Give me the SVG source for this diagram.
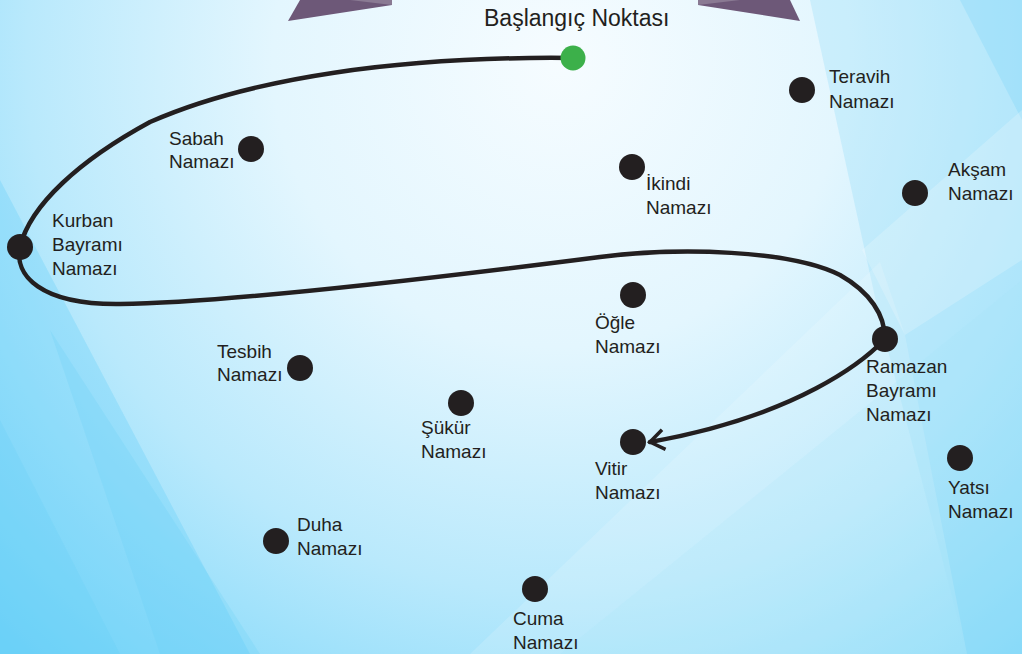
<svg xmlns="http://www.w3.org/2000/svg" width="1022" height="654" viewBox="0 0 1022 654">
  <defs>
    <radialGradient id="bg" cx="560" cy="60" r="820" gradientUnits="userSpaceOnUse">
      <stop offset="0" stop-color="#f6fcff"/>
      <stop offset="0.35" stop-color="#e3f6fe"/>
      <stop offset="0.65" stop-color="#b9e9fc"/>
      <stop offset="1" stop-color="#72d4f9"/>
    </radialGradient>
    <marker id="arr" viewBox="-16 -12 20 24" refX="0" refY="0" markerWidth="20" markerHeight="24" markerUnits="userSpaceOnUse" orient="auto">
      <path d="M-14,-10 L0,0 L-14,10" fill="none" stroke="#231f20" stroke-width="3.5" stroke-linejoin="miter"/>
    </marker>
    <style>
      .lbl { font-family: "Liberation Sans", Arial, sans-serif; font-size: 19px; fill: #231f20; }
      .title { font-family: "Liberation Sans", Arial, sans-serif; font-size: 23px; fill: #231f20; }
      .dot { fill: #231f20; }
      .conn { fill: none; stroke: #231f20; stroke-width: 4.5; stroke-linecap: round; }
    </style>
  </defs>

  <!-- background -->
  <rect x="0" y="0" width="1022" height="654" fill="url(#bg)"/>
  <g id="facets" stroke="none">
    <polygon points="810,0 1022,0 1022,654 967,654 880,320" fill="#8fdcfa" opacity="0.3"/>
    <polygon points="960,0 1022,0 1022,120" fill="#7ad5f8" opacity="0.3"/>
    <polygon points="862,250 1022,110 1022,260 905,335" fill="#ffffff" opacity="0.2"/>
    <polygon points="470,654 880,262 905,335 967,654" fill="#ffffff" opacity="0.15"/>
    <polygon points="0,180 0,654 250,654" fill="#5fcdf7" opacity="0.3"/>
    <polygon points="0,420 0,654 120,654" fill="#5fcdf7" opacity="0.2"/>
    <polygon points="50,330 160,654 260,654" fill="#5fcdf7" opacity="0.2"/>
    <polygon points="560,654 1022,280 1022,654" fill="#9fe2fb" opacity="0.15"/>
  </g>

  <!-- top decorative shapes -->
  <g id="header">
    <polygon points="300,0 392,0 392,5 288,21" fill="#6d5878"/>
    <polygon points="350,0 392,0 392,5" fill="#8a7a93"/>
    <polygon points="698,0 790,0 800,21 698,5" fill="#6d5878"/>
    <polygon points="698,0 740,0 698,5" fill="#8a7a93"/>
    <text class="title" x="484" y="26">Başlangıç Noktası</text>
  </g>

  <!-- connectors -->
  <g id="connectors">
    <path class="conn" d="M573,58 C400,56 250,78 150,122 C80,160 30,205 20,247 C14,275 40,305 120,304 C220,303 420,280 600,257 C680,247 790,250 840,275 C870,292 885,315 885,339"/>
    <path class="conn" d="M885,339 C865,360 800,415 650,442" marker-end="url(#arr)"/>
  </g>

  <!-- nodes -->
  <g id="start"><circle cx="573" cy="58" r="12.5" fill="#3cb04a"/></g>
  <g id="teravih"><circle class="dot" cx="802" cy="90" r="13"/><text class="lbl" x="829" y="83">Teravih</text><text class="lbl" x="829" y="108">Namazı</text></g>
  <g id="sabah"><circle class="dot" cx="251" cy="149" r="13"/><text class="lbl" x="169" y="145">Sabah</text><text class="lbl" x="169" y="168">Namazı</text></g>
  <g id="ikindi"><circle class="dot" cx="632" cy="167" r="13"/><text class="lbl" x="646" y="190">İkindi</text><text class="lbl" x="646" y="214">Namazı</text></g>
  <g id="aksam"><circle class="dot" cx="915" cy="193" r="13"/><text class="lbl" x="948" y="176">Akşam</text><text class="lbl" x="948" y="200">Namazı</text></g>
  <g id="kurban"><circle class="dot" cx="20" cy="247" r="13"/><text class="lbl" x="52" y="227">Kurban</text><text class="lbl" x="52" y="251">Bayramı</text><text class="lbl" x="52" y="275">Namazı</text></g>
  <g id="ogle"><circle class="dot" cx="633" cy="295" r="13"/><text class="lbl" x="595" y="329">Öğle</text><text class="lbl" x="595" y="353">Namazı</text></g>
  <g id="ramazan"><circle class="dot" cx="885" cy="339" r="13"/><text class="lbl" x="866" y="373">Ramazan</text><text class="lbl" x="866" y="397">Bayramı</text><text class="lbl" x="866" y="421">Namazı</text></g>
  <g id="tesbih"><circle class="dot" cx="300" cy="368" r="13"/><text class="lbl" x="217" y="358">Tesbih</text><text class="lbl" x="217" y="381">Namazı</text></g>
  <g id="sukur"><circle class="dot" cx="461" cy="403" r="13"/><text class="lbl" x="421" y="434">Şükür</text><text class="lbl" x="421" y="458">Namazı</text></g>
  <g id="vitir"><circle class="dot" cx="633" cy="442" r="13"/><text class="lbl" x="595" y="475">Vitir</text><text class="lbl" x="595" y="499">Namazı</text></g>
  <g id="yatsi"><circle class="dot" cx="960" cy="458" r="13"/><text class="lbl" x="948" y="494">Yatsı</text><text class="lbl" x="948" y="518">Namazı</text></g>
  <g id="duha"><circle class="dot" cx="276" cy="541" r="13"/><text class="lbl" x="297" y="531">Duha</text><text class="lbl" x="297" y="555">Namazı</text></g>
  <g id="cuma"><circle class="dot" cx="535" cy="589" r="13"/><text class="lbl" x="513" y="625">Cuma</text><text class="lbl" x="513" y="649">Namazı</text></g>
</svg>
